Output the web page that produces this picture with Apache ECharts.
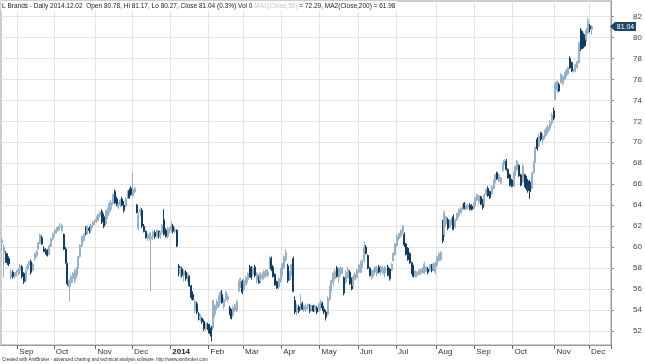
<!DOCTYPE html>
<html><head><meta charset="utf-8">
<script src="https://cdn.jsdelivr.net/npm/echarts@6/dist/echarts.min.js"></script>
<style>html,body{margin:0;padding:0;background:#fff}#c{width:645px;height:364px}</style>
</head><body><div id="c"></div>
<script>
// ---- Data (L Brands daily, 2013-08-20 .. 2014-12-02) ----
const openV = [
60.4,59.5,59.4,59.2,58.9,57.1,57.6,57.2,57.4,57.6,
57.8,58.1,57.5,56.8,57.9,58.3,58.6,57.8,58.9,59.2,
59.8,60.4,60.9,59.8,59.7,59.6,59.3,60.1,60.8,61.3,
61.5,61.7,61.9,61.6,61.2,59.8,58.4,56.2,56.6,57.0,
56.8,57.3,58.0,59.1,60.1,60.6,61.9,61.4,61.8,61.6,
62.1,62.4,62.5,62.9,63.0,63.4,62.9,62.2,63.0,63.4,
63.6,64.2,65.3,64.6,63.8,64.0,64.6,64.0,63.9,64.7,
65.4,65.6,64.9,65.3,64.0,61.8,63.3,63.5,62.0,61.5,
60.9,60.8,60.8,61.0,61.4,61.0,61.5,61.0,61.4,62.6,
61.6,61.0,61.5,61.6,62.0,61.5,61.6,58.2,57.5,57.9,
57.3,57.6,57.0,57.2,56.3,55.5,54.0,54.6,53.6,53.1,
53.2,52.9,52.2,52.6,52.6,52.3,52.3,53.6,54.2,54.4,
54.9,55.5,54.3,55.0,55.0,54.2,54.0,53.5,54.0,53.9,
55.8,56.3,56.7,55.9,56.4,56.9,58.1,58.0,57.4,58.1,
56.8,57.1,56.8,57.0,57.1,57.3,57.3,58.0,58.9,58.1,
57.4,56.7,56.2,56.8,57.4,58.0,58.8,58.2,56.9,57.4,
58.9,54.9,53.8,54.3,54.0,54.6,54.0,54.1,54.3,54.4,
54.0,54.4,53.9,54.2,53.9,54.3,54.6,54.1,53.8,53.6,
55.0,56.0,56.6,57.0,58.0,57.1,57.5,57.6,57.1,56.7,
57.1,57.6,56.9,56.3,56.9,57.1,57.6,57.6,58.2,58.7,
60.0,59.2,58.0,57.1,57.5,57.6,57.4,58.1,57.6,57.7,
57.4,57.8,58.1,57.9,57.8,58.7,59.3,60.1,60.8,61.1,
61.4,61.2,60.3,59.9,59.4,58.5,58.1,57.2,57.3,57.4,
57.5,57.6,57.5,57.7,57.9,57.8,58.1,57.9,57.6,58.2,
58.7,58.8,62.3,61.2,62.2,62.6,61.9,62.3,62.9,61.9,
62.6,63.0,63.3,63.6,64.2,63.6,63.8,64.0,63.9,63.7,
64.0,64.5,64.3,64.8,64.5,64.1,65.0,65.6,65.3,65.1,
65.6,66.3,67.1,66.3,66.1,67.3,67.9,68.2,67.4,66.9,
66.4,65.8,66.9,67.4,67.8,66.9,66.2,66.9,66.6,66.3,
66.2,65.6,67.1,68.1,70.3,69.6,70.9,70.2,70.5,70.8,
71.0,71.3,71.8,73.0,74.1,75.0,75.5,75.7,75.6,76.0,
76.3,76.5,78.0,77.6,76.8,76.8,77.1,77.6,80.7,80.4,
80.1,79.8,80.4,81.1,80.78
];
const highV = [
60.9,60.3,59.6,59.4,59.1,57.9,57.8,57.6,57.8,58.0,
58.4,58.3,57.6,57.9,58.4,58.7,58.8,58.5,59.5,59.7,
60.5,61.3,61.1,60.1,59.9,59.8,60.3,60.9,61.4,61.7,
61.9,62.0,62.3,62.2,61.3,60.0,58.5,57.0,57.4,57.6,
57.9,58.1,59.2,60.3,61.1,61.3,62.0,62.1,62.0,62.2,
62.5,62.7,63.0,63.2,63.4,63.6,63.2,63.6,63.8,64.3,
64.5,65.1,65.5,64.8,64.3,64.6,64.8,64.4,64.7,65.4,
65.6,65.8,67.1,65.8,64.1,63.3,63.8,63.7,62.2,61.6,
61.3,61.4,61.4,61.6,61.6,61.7,61.6,61.5,62.2,63.6,
61.8,61.9,61.9,62.4,62.2,61.9,61.7,58.4,58.2,58.1,
57.9,57.8,57.6,57.3,56.4,55.8,55.0,54.8,53.8,53.6,
53.3,53.1,52.8,52.8,52.7,52.5,55.0,54.6,55.0,55.4,
55.8,55.9,55.2,55.8,55.5,54.4,54.1,54.4,54.6,55.0,
56.8,57.1,56.9,57.0,57.3,57.6,58.3,58.2,58.1,58.3,
57.6,57.3,57.6,57.6,57.8,57.9,57.9,59.2,59.1,58.3,
57.5,56.8,57.1,58.0,58.5,59.2,59.8,58.4,57.7,58.4,
59.1,55.3,54.6,54.5,55.5,54.8,54.5,54.6,54.6,54.6,
54.5,54.5,54.5,54.4,54.7,55.0,54.8,54.4,54.0,55.3,
56.3,56.9,57.6,57.9,58.2,58.1,58.1,58.1,57.2,57.8,
58.1,57.8,57.1,57.4,57.6,57.9,58.4,58.7,58.8,60.5,
60.2,59.3,58.1,57.8,57.9,58.2,58.2,58.3,58.2,58.2,
58.2,58.1,58.3,58.0,58.5,59.5,60.4,61.2,61.4,61.7,
62.1,61.4,60.4,60.0,59.5,58.6,58.3,57.8,57.7,57.9,
58.0,58.1,58.6,58.2,58.1,58.4,58.4,58.5,58.6,59.2,
59.5,59.6,62.6,63.5,63.0,62.8,62.7,62.8,63.1,62.7,
63.3,63.7,63.8,64.1,64.3,64.1,64.1,64.2,64.1,64.3,
64.8,65.1,65.0,64.9,64.6,65.1,65.6,65.8,65.4,65.9,
66.5,67.0,67.2,67.0,66.7,68.1,68.4,68.4,67.5,67.0,
66.5,67.2,67.8,68.3,67.9,67.0,67.9,67.0,66.8,66.5,
66.4,67.2,68.2,69.6,70.5,70.8,71.0,70.8,71.2,71.5,
71.7,72.1,72.8,73.3,75.8,75.9,75.7,76.6,76.4,76.7,
77.0,77.2,78.2,77.7,77.0,77.5,77.8,79.6,80.9,80.6,
80.3,80.9,81.9,81.3,81.17
];
const lowV = [
59.6,57.1,58.5,58.3,58.2,56.9,57.0,57.0,57.2,57.3,
57.4,57.0,56.5,56.6,57.7,57.9,57.4,57.7,58.7,59.0,
59.7,60.3,60.2,59.5,59.3,59.1,59.2,60.0,60.6,61.0,
61.3,61.5,61.6,61.4,59.7,58.4,56.3,54.8,56.2,56.6,
56.5,57.0,57.9,59.0,60.0,60.5,61.1,61.2,61.3,61.4,
61.8,62.1,62.3,62.5,62.8,62.2,61.8,62.1,62.7,63.2,
63.4,64.0,64.1,63.9,63.6,63.8,63.9,63.3,63.8,64.6,
64.6,64.9,64.7,65.1,63.2,61.6,62.9,61.8,61.4,60.8,
60.6,60.6,55.8,60.7,60.8,60.9,60.8,60.8,61.2,61.1,
60.9,60.8,61.3,61.4,61.3,61.3,60.0,57.2,57.1,57.1,
56.7,56.8,56.7,56.2,55.0,54.9,53.7,53.6,53.0,52.9,
52.7,52.0,52.0,52.1,51.7,51.0,52.1,53.3,54.0,54.2,
54.7,54.6,54.1,54.8,54.7,53.5,53.1,53.3,53.8,53.8,
55.7,56.1,55.5,55.8,56.3,56.6,57.1,56.9,57.2,57.1,
56.5,56.5,56.6,56.8,56.9,57.1,57.1,57.9,57.7,57.1,
56.3,56.0,56.0,56.6,57.2,57.9,58.6,56.6,56.8,57.2,
55.7,53.6,53.5,53.7,53.9,54.0,53.8,53.8,54.0,53.7,
53.9,53.8,53.8,53.6,53.8,54.0,53.9,53.6,53.0,53.5,
54.9,55.7,56.3,56.8,57.1,56.6,57.3,57.4,55.4,56.5,
57.0,56.4,55.9,56.2,56.8,57.0,57.5,57.5,58.0,58.5,
59.3,57.9,57.2,56.9,57.2,57.4,57.2,57.5,57.3,57.5,
57.1,57.5,57.2,56.8,57.7,58.6,59.2,60.0,60.6,60.9,
61.2,60.0,59.2,58.7,58.4,57.4,57.1,57.1,57.1,57.3,
57.3,57.5,57.4,57.6,57.4,57.7,57.6,57.7,57.4,58.1,
58.6,58.7,60.4,61.0,61.9,61.6,61.8,62.1,61.6,61.8,
62.5,62.8,63.2,63.5,63.6,63.5,63.6,63.5,63.5,63.6,
63.9,64.4,64.1,64.0,63.6,64.0,64.9,64.8,64.6,65.0,
65.5,66.1,66.4,66.2,66.0,67.2,67.8,67.3,66.5,65.8,
65.7,65.7,66.8,67.2,66.7,65.8,66.1,65.7,65.4,65.2,
64.6,65.5,67.0,68.0,69.2,69.5,70.1,69.8,70.3,70.6,
70.8,71.1,71.6,72.1,74.0,74.7,74.8,75.6,75.4,75.9,
76.2,76.4,77.0,76.7,76.6,76.7,77.0,77.5,78.7,78.9,
79.1,79.6,80.3,80.5,80.27
];
const closeV = [
60.7,60.0,58.7,58.5,58.4,57.6,57.2,57.4,57.6,57.8,
58.2,57.2,56.7,57.7,58.2,58.6,57.6,58.4,59.4,59.6,
60.4,61.2,60.3,59.6,59.4,59.2,60.1,60.8,61.3,61.6,
61.8,61.9,62.0,62.1,59.8,58.5,56.5,56.8,57.2,57.5,
57.8,58.0,59.1,60.2,61.0,61.2,61.3,62.0,61.6,62.1,
62.4,62.6,62.9,63.1,63.3,62.4,62.0,63.5,63.6,64.2,
64.3,65.0,64.2,64.0,64.1,64.5,64.0,63.5,64.6,65.3,
64.7,65.0,65.5,65.6,63.3,63.1,63.6,62.0,61.5,60.9,
61.0,61.2,61.0,61.4,61.0,61.6,61.0,61.4,62.1,61.2,
61.0,61.7,61.8,62.0,61.5,61.7,60.1,57.5,58.0,57.3,
57.7,57.0,57.4,56.3,55.2,55.0,54.8,53.8,53.1,53.5,
52.9,52.2,52.7,52.3,51.8,51.5,54.9,54.4,54.8,55.2,
55.7,54.7,55.0,55.7,55.3,53.6,53.2,54.2,54.5,54.8,
56.7,57.0,55.7,56.8,57.1,57.5,57.2,57.1,58.0,57.3,
57.5,56.6,57.5,57.4,57.7,57.8,57.6,59.0,57.9,57.2,
56.4,56.1,57.0,57.9,58.4,59.1,59.5,56.8,57.5,58.3,
55.8,53.8,54.3,53.9,54.6,54.1,54.4,54.3,54.5,53.9,
54.4,53.9,54.4,53.8,54.6,54.8,54.2,53.8,53.3,55.1,
56.1,56.8,57.5,57.7,57.2,58.0,58.0,57.9,55.6,57.6,
57.9,56.5,56.0,57.2,57.4,57.8,58.3,58.5,58.7,60.0,
59.4,58.0,57.3,57.7,57.8,58.1,58.0,57.6,58.1,58.0,
58.0,57.9,57.3,57.0,58.4,59.4,60.3,61.0,61.3,61.6,
62.0,60.2,59.3,58.8,58.5,57.5,57.2,57.7,57.6,57.8,
57.9,58.0,58.4,58.1,57.6,58.3,57.8,58.4,58.5,59.1,
59.4,59.5,60.6,63.3,62.9,61.8,62.6,62.7,61.7,62.6,
63.2,63.6,63.7,64.0,63.7,64.0,64.0,63.6,63.6,64.2,
64.7,65.0,64.9,64.1,63.8,65.0,65.5,64.9,64.7,65.8,
66.4,66.9,66.5,66.9,66.6,68.0,68.3,67.4,66.6,65.9,
65.8,67.0,67.7,68.2,66.8,65.9,67.7,65.8,65.6,65.4,
65.3,67.1,68.0,69.5,69.4,70.6,70.3,70.6,71.0,71.3,
71.5,71.9,72.6,72.3,75.6,75.8,74.9,76.5,76.3,76.6,
76.9,77.1,77.1,76.8,76.9,77.4,77.7,79.5,78.9,79.0,
79.2,80.7,81.6,80.8,81.04
];
const yTicks = [52,54,56,58,60,62,64,66,68,70,72,74,76,78,80,82];
const monthNames = ['Jan','Feb','Mar','Apr','May','Jun','Jul','Aug','Sep','Oct','Nov','Dec'];
const holidays = ['2013-09-02','2013-11-28','2013-12-25','2014-01-01','2014-01-20','2014-02-17',
  '2014-04-18','2014-05-26','2014-07-04','2014-09-01','2014-11-27','2014-12-25'];
const ma1Label = 'MA1(Close,50)';
const ma1Value = '72.29';
const ma2Value = '61.98';
const footerText = 'Created with AmiBroker - advanced charting and technical analysis software. http://www.amibroker.com';

// trading-day categories (slots to the right of the last bar are left empty)
const slotCount = 335;
const categories = [];
{
  const d = new Date(Date.UTC(2013, 7, 20));
  while (categories.length < slotCount) {
    const wd = d.getUTCDay();
    const s = d.toISOString().slice(0, 10);
    if (wd !== 0 && wd !== 6 && holidays.indexOf(s) < 0) categories.push(s);
    d.setUTCDate(d.getUTCDate() + 1);
  }
}
const isMonthStart = categories.map((s, i) => i > 0 && s.slice(0, 7) !== categories[i - 1].slice(0, 7));

const candles = closeV.map((c, i) => [openV[i], c, lowV[i], highV[i]]);
const n = closeV.length;
const lastO = openV[n - 1], lastH = highV[n - 1], lastL = lowV[n - 1], lastC = closeV[n - 1];
const pct = ((lastC / closeV[n - 2] - 1) * 100).toFixed(1);
const lastDate = categories[n - 1].replace(/-/g, '.');

const FONT = "'Liberation Sans', Arial, sans-serif";
const UP = '#98b1c6', DOWN = '#143c5e', GRIDC = '#e4e4e4';
const TFS = 6.5;

const chart = echarts.init(document.getElementById('c'), null, {renderer: 'canvas'});
chart.setOption({
  animation: false,
  backgroundColor: '#fff',
  title: {
    text: '{a|L Brands - Daily ' + lastDate + '  Open ' + lastO.toFixed(2) + ', Hi ' + lastH.toFixed(2) +
          ', Lo ' + lastL.toFixed(2) + ', Close ' + lastC.toFixed(2) + ' (' + pct + '%) Vol 0 }{g|' + ma1Label +
          '}{a| = ' + ma1Value + ', MA2(Close,200) = ' + ma2Value + '}',
    left: 1, top: 1, padding: [1.5, 2, 1.5, 1], backgroundColor: '#fff',
    textStyle: {
      fontWeight: 'normal', fontSize: TFS,
      rich: {
        a: {fontSize: TFS, fontWeight: 'normal', color: '#222', fontFamily: FONT},
        g: {fontSize: TFS, fontWeight: 'normal', color: '#c6c6c6', fontFamily: FONT}
      }
    }
  },
  grid: {left: 1, right: 34, top: 1, bottom: 19, show: true, borderColor: '#9a9a9a', borderWidth: 1, backgroundColor: 'transparent'},
  xAxis: {
    type: 'category', data: categories, boundaryGap: true,
    axisLine: {show: true, lineStyle: {color: '#9a9a9a'}},
    axisTick: {show: true, interval: (i) => isMonthStart[i], length: 4, lineStyle: {color: '#666'}},
    axisLabel: {
      interval: (i) => isMonthStart[i], align: 'left', margin: 3, padding: [0, 0, 0, 1],
      fontSize: 8, color: '#333', fontFamily: FONT,
      formatter: (v) => {
        const m = parseInt(v.slice(5, 7), 10);
        return m === 1 ? '{y|' + v.slice(0, 4) + '}' : monthNames[m - 1];
      },
      rich: {y: {fontSize: 8, fontWeight: 'bold', color: '#222', fontFamily: FONT}}
    },
    splitLine: {show: true, interval: (i) => isMonthStart[i], lineStyle: {color: GRIDC, width: 1}}
  },
  yAxis: {
    type: 'value', position: 'right', min: 50.66, max: 83.48,
    axisLine: {show: true, lineStyle: {color: '#9a9a9a'}},
    axisTick: {show: true, customValues: yTicks, length: 3, lineStyle: {color: '#888'}},
    axisLabel: {customValues: yTicks, align: 'right', margin: 31, fontSize: 8, color: '#444', fontFamily: FONT},
    splitLine: {show: false}
  },
  series: [{
    type: 'candlestick',
    data: candles,
    barWidth: 1.5,
    z: 3,
    itemStyle: {color: UP, color0: DOWN, borderColor: UP, borderColor0: DOWN, borderWidth: 1},
    markLine: {
      silent: true, z: 1, symbol: ['none', 'none'], animation: false,
      label: {show: false},
      lineStyle: {color: GRIDC, type: 'solid', width: 1},
      emphasis: {disabled: true},
      data: yTicks.map(v => ({yAxis: v}))
    }
  }],
  graphic: [{
    type: 'text', id: 'footer', left: 2, top: 357,
    style: {text: footerText, fontSize: 4.5, fill: '#333', fontFamily: FONT}
  }]
});

const py = chart.convertToPixel({yAxisIndex: 0}, lastC);
const ax = 611;
chart.setOption({
  graphic: [{
    type: 'polygon', id: 'pbox', z: 100,
    shape: {points: [[ax - 1, py], [ax + 4, py - 4.5], [ax + 25, py - 4.5], [ax + 25, py + 4.5], [ax + 4, py + 4.5]]},
    style: {fill: '#1c4566'}
  }, {
    type: 'text', id: 'ptxt', z: 101, x: ax + 14.5, y: py + 0.5,
    style: {text: lastC.toFixed(2), fill: '#fff', fontSize: 7, fontFamily: FONT, align: 'center', verticalAlign: 'middle'}
  }]
});
</script>
</body></html>
